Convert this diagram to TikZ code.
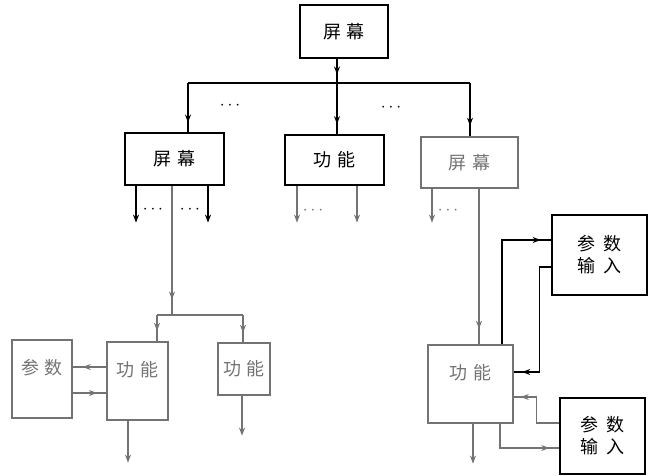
\documentclass[tikz,border=0pt]{standalone}
\usepackage{fontspec}
\newfontfamily\cjk{Noto Sans CJK SC}
\usetikzlibrary{arrows.meta,decorations.markings}
\colorlet{faded}{black!55}
\tikzset{
  box/.style={draw, inner sep=0pt, font=\cjk\fontsize{18}{22}\selectfont},
  midarrow/.style={postaction={decorate}, decoration={markings,
    mark=at position #1 with {\arrow{Stealth[length=8pt,width=6pt]}}}},
  midarrow/.default=0.5,
  endarrow/.style={-{Stealth[length=8pt,width=6pt]}},
  dots/.style={font=\LARGE, inner sep=0pt}
}
\begin{document}
\begin{tikzpicture}[x=1pt, y=-1pt, line width=1.2pt]
\useasboundingbox (0,0) rectangle (653,476);
% screens and functions
\node (top) at (344,31.5) [box, minimum width=88pt, minimum height=53pt] {屏\hspace{6pt}幕};
\node (scr1) at (174.5,159) [box, minimum width=99pt, minimum height=52pt] {屏\hspace{6pt}幕};
\node (fun1) at (334.5,160) [box, minimum width=99pt, minimum height=50pt] {功\hspace{6pt}能};
\node (scr2) at (469.5,162.5) [box, faded, minimum width=97pt, minimum height=51pt] {屏\hspace{6pt}幕};
\node (par1) at (42,379) [box, faded, minimum width=60pt, minimum height=78pt, text depth=24pt] {参\hspace{6pt}数};
\node (fun2) at (137.5,381) [box, faded, minimum width=61pt, minimum height=78pt, text depth=24pt] {功\hspace{6pt}能};
\node (fun3) at (244,369) [box, faded, minimum width=52pt, minimum height=52pt] {功\hspace{6pt}能};
\node (fun4) at (470.5,384) [box, faded, minimum width=85pt, minimum height=78pt, text depth=24pt] {功\hspace{6pt}能};
\node (inp1) at (599.5,255) [box, minimum width=95pt, minimum height=80pt, align=center] {参\hspace{8pt}数\\输\hspace{8pt}入};
\node (inp2) at (602.5,436) [box, minimum width=85pt, minimum height=76pt, align=center] {参\hspace{8pt}数\\输\hspace{8pt}入};
\node (dotsA) at (230,106) [dots] {$\cdots$};
\node (dotsB) at (391,108) [dots] {$\cdots$};
\node (dotsC) at (153,210) [dots] {$\cdots$};
\node (dotsD) at (190,210) [dots] {$\cdots$};
\node (dotsE) at (313,211) [dots, faded] {$\cdots$};
\node (dotsF) at (448,211) [dots, faded] {$\cdots$};
% top level
\coordinate (busL) at (188,83);
\coordinate (busM) at (337,83);
\coordinate (busR) at (470,83);
\draw[midarrow=0.65] (top.south -| busM) -- (busM);
\draw (busL) -- (busR);
\draw[midarrow=0.8] (busL) -- (busL |- scr1.north);
\draw[midarrow=0.8] (busM) -- (busM |- fun1.north);
\draw[midarrow=0.8] (busR) -- (busR |- scr2.north);
\draw[endarrow] ([xshift=-38.5pt]scr1.south) -- ++(0,37);
\draw[endarrow] ([xshift=33.5pt]scr1.south) -- ++(0,37);
\draw[endarrow, faded] ([xshift=-37.5pt]fun1.south) -- ++(0,37);
\draw[endarrow, faded] ([xshift=22.5pt]fun1.south) -- ++(0,37);
\draw[endarrow, faded] ([xshift=-37.5pt]scr2.south) -- ++(0,34);
% lower left
\coordinate (bus2) at (172,315);
\coordinate (bus2L) at (157,315);
\coordinate (bus2R) at (243,315);
\draw[midarrow=0.88, faded] ([xshift=-2.5pt]scr1.south) -- (bus2);
\draw[faded] (bus2L) -- (bus2R);
\draw[midarrow=0.6, faded] (bus2L) -- (bus2L |- fun2.north);
\draw[midarrow=0.65, faded] (bus2R) -- (bus2R |- fun3.north);
\draw[midarrow=0.7, faded] ([yshift=14pt]fun2.west) -- ([yshift=14pt]fun2.west -| par1.east);
\draw[midarrow=0.72, faded] ([yshift=-12pt]fun2.west -| par1.east) -- ([yshift=-12pt]fun2.west);
\draw[endarrow, faded] ([xshift=-9.5pt]fun2.south) -- ++(0,42);
\draw[endarrow, faded] ([xshift=-2pt]fun3.south) -- ++(0,40);
% lower right
\draw[midarrow=0.9, faded] ([xshift=9.5pt]scr2.south) -- ([xshift=9.5pt]scr2.south |- fun4.north);
\draw[midarrow=0.93] ([xshift=31.5pt]fun4.north) |- ([yshift=15pt]inp1.west);
\draw[midarrow=0.94] ([yshift=-12pt]inp1.west) -- ++(-12,0) |- ([yshift=12pt]fun4.east);
\draw[midarrow=0.9, faded] ([yshift=13pt]inp2.west) -- ++(-23,0) |- ([yshift=-13pt]fun4.east);
\draw[midarrow=0.88, faded] ([xshift=29.5pt]fun4.south) |- ([yshift=-12pt]inp2.west);
\draw[endarrow, faded] ([xshift=2.5pt]fun4.south) -- ++(0,40);
\end{tikzpicture}
\end{document}
